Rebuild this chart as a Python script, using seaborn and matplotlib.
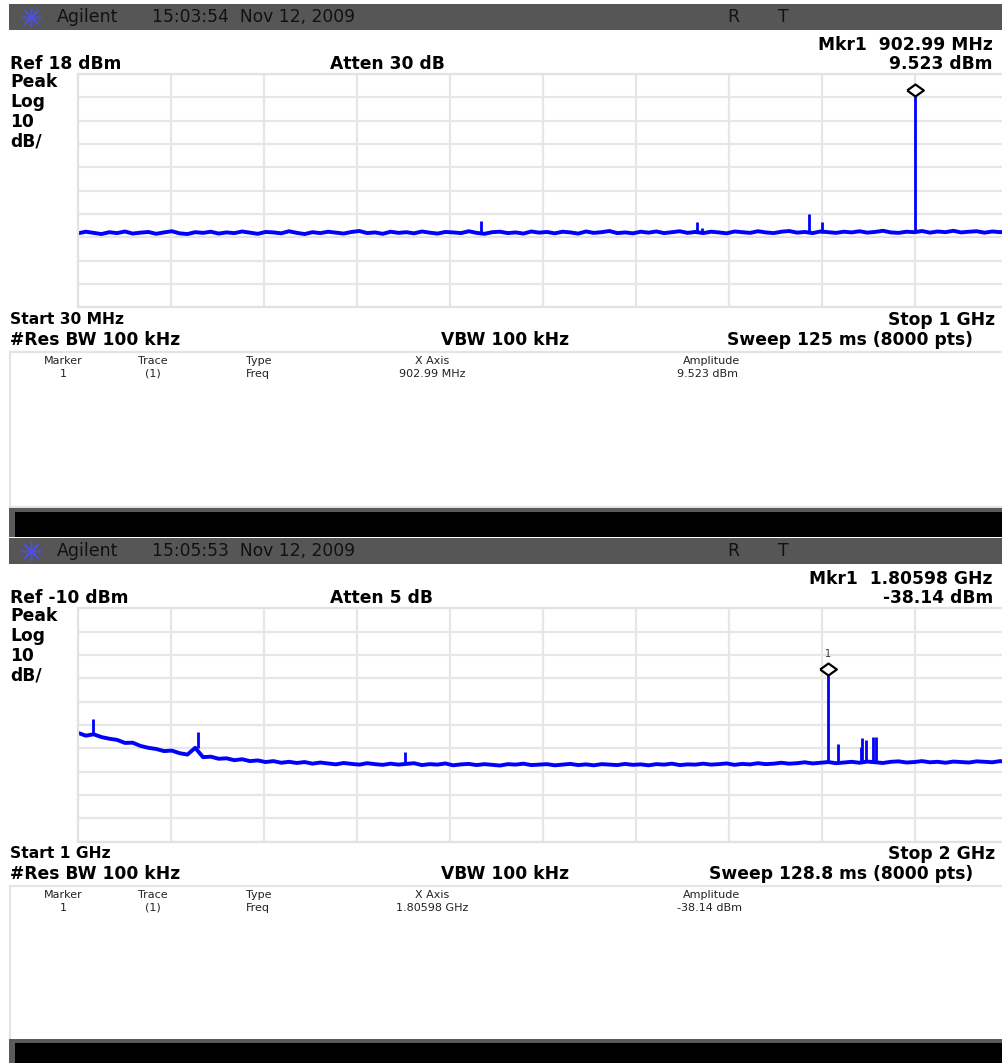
import numpy as np
import pandas as pd
import matplotlib
matplotlib.use("Agg")
import matplotlib.pyplot as plt
from matplotlib.patches import Rectangle
import matplotlib.transforms as mtransforms
import seaborn as sns

sns.set_style("white")
plt.rcParams['font.family'] = ['DejaVu Sans']

# ---------------- data ----------------
# Panel 1 : 30 MHz - 1 GHz, Ref 18 dBm, 10 dB/div
top_start_mhz, top_stop_mhz = 30.0, 1000.0
top_ref_dbm = 18.0
top_noise_dbm = [
    -50.3, -49.6, -50.1, -50.6, -49.8, -50.2, -49.5, -50.4, -50.0, -49.7,
    -50.5, -49.9, -49.4, -50.3, -50.6, -49.8, -50.1, -49.6, -50.4, -49.9,
    -50.2, -49.5, -50.0, -50.5, -49.7, -49.9, -50.3, -49.4, -50.1, -50.6,
    -49.8, -50.2, -49.6, -50.0, -50.4, -49.7, -49.3, -50.2, -49.9, -50.5,
    -49.6, -50.1, -49.8, -50.3, -49.5, -50.0, -50.4, -49.7, -49.9, -50.2,
    -49.4, -50.1, -50.5, -49.8, -49.6, -50.2, -49.9, -50.4, -49.5, -50.0,
    -49.7, -50.3, -49.6, -49.9, -50.4, -49.5, -50.1, -49.8, -49.3, -50.2,
    -49.9, -50.3, -49.6, -50.0, -49.5, -50.2, -49.8, -49.4, -50.1, -49.7,
    -50.2, -49.6, -49.9, -50.3, -49.5, -49.8, -50.1, -49.4, -49.9, -50.2,
    -49.6, -49.3, -50.0, -49.7, -50.2, -49.5, -49.8, -50.1, -49.6, -49.9,
    -49.4, -50.0, -49.7, -49.2, -49.9, -50.1, -49.6, -49.8, -49.3, -50.0,
    -49.5, -49.8, -49.2, -49.9, -49.6, -49.4, -50.0, -49.5, -49.8, -49.3,
]
top_spike_mhz = [450.0, 675.6, 681.0, 792.4, 806.0, 902.99]
top_spike_dbm = [-45.0, -45.3, -47.8, -42.0, -45.5, 9.523]
top_spike_base = [-50.0, -50.0, -50.0, -50.0, -50.0, -50.0]
top_marker_mhz, top_marker_dbm = 902.99, 9.523

# Panel 2 : 1 GHz - 2 GHz, Ref -10 dBm, 10 dB/div
bot_start_ghz, bot_stop_ghz = 1.0, 2.0
bot_ref_dbm = -10.0
bot_noise_dbm = [
    -63.4, -64.6, -64.0, -65.2, -65.9, -66.4, -67.7, -67.6, -69.0, -69.8,
    -70.3, -71.2, -71.0, -72.1, -72.7, -69.8, -73.8, -73.6, -74.5, -74.3,
    -75.1, -74.7, -75.5, -75.2, -75.9, -75.5, -76.2, -75.8, -76.3, -75.9,
    -76.6, -76.1, -76.5, -76.9, -76.3, -76.7, -77.0, -76.4, -76.8, -77.1,
    -76.6, -77.0, -76.7, -76.4, -77.2, -76.8, -77.0, -76.5, -77.3, -76.9,
    -76.7, -77.2, -76.8, -77.1, -77.4, -76.8, -77.0, -76.6, -77.2, -77.0,
    -76.8, -77.3, -77.0, -76.7, -77.2, -76.9, -77.3, -76.8, -77.0, -77.2,
    -76.7, -77.1, -76.9, -77.3, -76.8, -77.0, -76.6, -77.2, -76.9, -77.0,
    -76.6, -77.0, -76.8, -76.5, -77.1, -76.7, -76.9, -76.4, -76.8, -76.6,
    -76.2, -76.6, -76.4, -76.0, -76.5, -76.2, -75.9, -76.4, -76.1, -75.8,
    -76.2, -75.7, -76.0, -76.3, -75.8, -75.6, -76.1, -75.9, -75.5, -76.0,
    -75.8, -76.2, -75.7, -75.9, -76.1, -75.6, -75.8, -76.0, -75.5, -75.9,
]
bot_spike_ghz = [1.016, 1.129, 1.352, 1.80598, 1.8169, 1.8416, 1.8427, 1.8473, 1.8552, 1.8577]
bot_spike_dbm = [-57.4, -63.0, -71.8, -38.14, -68.0, -69.5, -65.5, -66.5, -65.1, -65.1]
bot_spike_base = [-64.5, -70.0, -76.8, -76.0, -76.0, -76.0, -76.0, -76.0, -76.0, -76.0]
bot_marker_ghz, bot_marker_dbm = 1.80598, -38.14

# ---------------- figure ----------------
W, H = 1003, 1063
fig = plt.figure(figsize=(W / 100, H / 100), dpi=100)
fig.patch.set_facecolor("white")

bg = fig.add_axes([0, 0, 1, 1])
bg.set_xlim(0, W)
bg.set_ylim(H, 0)
bg.axis("off")
bg.set_zorder(0)

BAR = "#565656"
TXT = "#111111"
TAB = "#222222"
BOLD = dict(fontweight="bold", color="black", fontsize=12.3, va="center")


def header(y0, time_str):
    bg.add_patch(Rectangle((9, y0), W - 9, 26, facecolor=BAR, edgecolor="none"))
    bg.plot([31], [y0 + 13], marker=(8, 2, 0), ms=15, mec="#4a4aff", mew=1.0)
    bg.text(57, y0 + 13.5, "Agilent", fontsize=12.5, color=TXT, va="center")
    bg.text(152, y0 + 13.5, time_str, fontsize=12.3, color=TXT, va="center")
    bg.text(727, y0 + 13.5, "R", fontsize=12.5, color=TXT, va="center")
    bg.text(778, y0 + 13.5, "T", fontsize=12.5, color=TXT, va="center")


def black_bar(y0, h):
    bg.add_patch(Rectangle((9, y0), W - 9, h, facecolor="#5a5a5a", edgecolor="none"))
    bg.add_patch(Rectangle((15, y0 + 4), W - 15, h - 4, facecolor="black", edgecolor="none"))


def table(y0, xval, ampval):
    bg.add_patch(Rectangle((10, y0), W - 9, 155, facecolor="white",
                           edgecolor="#e4e4e4", lw=1.6))
    hy, vy = y0 + 9, y0 + 22
    fs = 8
    bg.text(63, hy, "Marker", fontsize=fs, color=TAB, ha="center", va="center")
    bg.text(153, hy, "Trace", fontsize=fs, color=TAB, ha="center", va="center")
    bg.text(246, hy, "Type", fontsize=fs, color=TAB, ha="left", va="center")
    bg.text(432, hy, "X Axis", fontsize=fs, color=TAB, ha="center", va="center")
    bg.text(712, hy, "Amplitude", fontsize=fs, color=TAB, ha="center", va="center")
    bg.text(63, vy, "1", fontsize=fs, color=TAB, ha="center", va="center")
    bg.text(153, vy, "(1)", fontsize=fs, color=TAB, ha="center", va="center")
    bg.text(246, vy, "Freq", fontsize=fs, color=TAB, ha="left", va="center")
    bg.text(432, vy, xval, fontsize=fs, color=TAB, ha="center", va="center")
    bg.text(677, vy, ampval, fontsize=fs, color=TAB, ha="left", va="center")


def panel_text(off, ref, atten, mkr, mkr_amp, start, stop, sweep):
    bg.text(993, 45 + off, mkr, ha="right", **BOLD)
    bg.text(993, 64 + off, mkr_amp, ha="right", **BOLD)
    bg.text(10, 64 + off, ref, ha="left", **BOLD)
    bg.text(330, 64 + off, atten, ha="left", **BOLD)
    for k, s in enumerate(["Peak", "Log", "10", "dB/"]):
        bg.text(10, 82 + off + 20 * k, s, ha="left", **BOLD)
    small = dict(BOLD, fontsize=11.2)
    bg.text(10, 320 + off, start, ha="left", **small)
    bg.text(995, 320 + off, stop, ha="right", **BOLD)
    bg.text(10, 340 + off, "#Res BW 100 kHz", ha="left", **BOLD)
    bg.text(505, 340 + off, "VBW 100 kHz", ha="center", **BOLD)
    bg.text(973, 340 + off, sweep, ha="right", **BOLD)


# --- top panel decorations
header(4, "15:03:54  Nov 12, 2009")
panel_text(0, "Ref 18 dBm", "Atten 30 dB", "Mkr1  902.99 MHz", "9.523 dBm",
           "Start 30 MHz", "Stop 1 GHz", "Sweep 125 ms (8000 pts)")
table(352, "902.99 MHz", "9.523 dBm")
black_bar(508, 29)

# --- bottom panel decorations
OFF = 534
header(4 + OFF, "15:05:53  Nov 12, 2009")
panel_text(OFF, "Ref -10 dBm", "Atten 5 dB", "Mkr1  1.80598 GHz", "-38.14 dBm",
           "Start 1 GHz", "Stop 2 GHz", "Sweep 128.8 ms (8000 pts)")
table(352 + OFF, "1.80598 GHz", "-38.14 dBm")
black_bar(1039, 30)


# ---------------- trace axes ----------------
def make_ax(top_px):
    left, width, height = 78, 930, 233.3
    ax = fig.add_axes([left / W, 1 - (top_px + height) / H, width / W, height / H])
    ax.set_zorder(2)
    ax.set_facecolor("white")
    for sp in ax.spines.values():
        sp.set_color("#e2e2e2")
        sp.set_linewidth(1.6)
    return ax


def style_ax(ax, x0, x1, ref):
    ax.set_xlim(x0, x1)
    ax.set_ylim(ref - 100, ref)
    ax.set_xticks(np.linspace(x0, x1, 11))
    ax.set_yticks(np.linspace(ref - 100, ref, 11))
    ax.grid(True, color="#e6e6e6", lw=1.6)
    ax.tick_params(length=0, labelbottom=False, labelleft=False)
    ax.set_xlabel("")
    ax.set_ylabel("")
    ax.set_axisbelow(True)


BLUE = "#0000ff"
diamond = [(-1, 0), (0, 0.72), (1, 0), (0, -0.72), (-1, 0)]

# Top trace
ax1 = make_ax(74)
df1 = pd.DataFrame({"freq": np.linspace(top_start_mhz, top_stop_mhz, len(top_noise_dbm)),
                    "dbm": top_noise_dbm})
sns.lineplot(data=df1, x="freq", y="dbm", ax=ax1, color=BLUE, lw=2.8,
             estimator=None, sort=False, legend=False)
ax1.vlines(top_spike_mhz, top_spike_base, top_spike_dbm, color=BLUE, lw=2.0)
style_ax(ax1, top_start_mhz, top_stop_mhz, top_ref_dbm)
tr1 = mtransforms.offset_copy(ax1.transData, fig=fig, y=4, units="dots")
ax1.plot([top_marker_mhz], [top_marker_dbm], marker=diamond, ms=12, mfc="white",
         mec="black", mew=1.6, transform=tr1, clip_on=False)

# Bottom trace
ax2 = make_ax(608.3)
df2 = pd.DataFrame({"freq": np.linspace(bot_start_ghz, bot_stop_ghz, len(bot_noise_dbm)),
                    "dbm": bot_noise_dbm})
sns.lineplot(data=df2, x="freq", y="dbm", ax=ax2, color=BLUE, lw=2.8,
             estimator=None, sort=False, legend=False)
ax2.vlines(bot_spike_ghz, bot_spike_base, bot_spike_dbm, color=BLUE, lw=2.0)
style_ax(ax2, bot_start_ghz, bot_stop_ghz, bot_ref_dbm)
tr2 = mtransforms.offset_copy(ax2.transData, fig=fig, y=5, units="dots")
ax2.plot([bot_marker_ghz], [bot_marker_dbm], marker=diamond, ms=12, mfc="white",
         mec="black", mew=1.6, transform=tr2, clip_on=False)
tr2b = mtransforms.offset_copy(ax2.transData, fig=fig, y=20, units="dots")
ax2.text(bot_marker_ghz, bot_marker_dbm, "1", transform=tr2b, fontsize=7,
         color="#333333", ha="center", va="center")

fig.savefig("out.png", dpi=100)
